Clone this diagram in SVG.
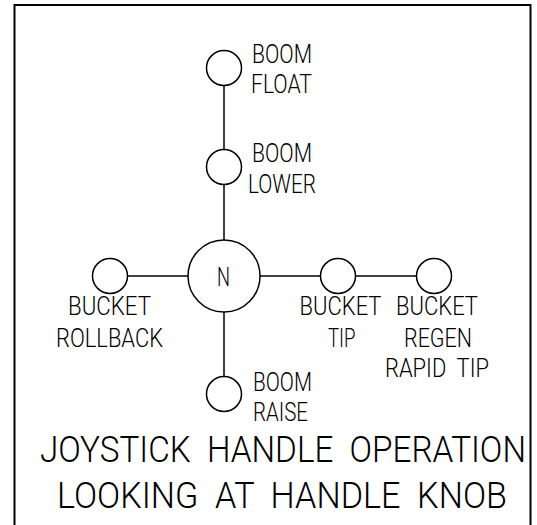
<svg xmlns="http://www.w3.org/2000/svg" width="537" height="525" viewBox="0 0 537 525">
<style>
.n{fill:#fff;stroke:#000;stroke-width:1.5}
.c{stroke:#000;stroke-width:1.5;fill:none}
text{font-family:Roboto,"Liberation Sans",Arial,sans-serif;font-weight:300;fill:#000;white-space:pre}
.l{font-size:25.5px}
.t{font-size:30px}
</style>
<rect x="0" y="0" width="537" height="525" fill="#fff"/>
<rect x="14.5" y="5" width="516" height="530" fill="none" stroke="#000" stroke-width="2"/>
<g id="connectors">
<line class="c" x1="224" y1="85.5" x2="224" y2="149.5"/>
<line class="c" x1="224" y1="184.5" x2="224" y2="240"/>
<line class="c" x1="224" y1="312" x2="224" y2="376.5"/>
<line class="c" x1="127.5" y1="276" x2="188" y2="276"/>
<line class="c" x1="260" y1="276" x2="320.5" y2="276"/>
<line class="c" x1="355.5" y1="276" x2="416.5" y2="276"/>
</g>
<g id="boom-float">
<circle class="n" cx="224" cy="68" r="17.5"/>
<text class="l" x="252" y="63" textLength="60" lengthAdjust="spacingAndGlyphs">BOOM</text>
<text class="l" x="251" y="93" textLength="61" lengthAdjust="spacingAndGlyphs">FLOAT</text>
</g>
<g id="boom-lower">
<circle class="n" cx="224" cy="167" r="17.5"/>
<text class="l" x="252" y="162" textLength="60" lengthAdjust="spacingAndGlyphs">BOOM</text>
<text class="l" x="248" y="193" textLength="68" lengthAdjust="spacingAndGlyphs">LOWER</text>
</g>
<g id="neutral">
<circle class="n" cx="224" cy="276" r="36"/>
<text class="l" x="217" y="286" textLength="13" lengthAdjust="spacingAndGlyphs">N</text>
</g>
<g id="bucket-rollback">
<circle class="n" cx="110" cy="276" r="17.5"/>
<text class="l" x="68" y="315" textLength="83" lengthAdjust="spacingAndGlyphs">BUCKET</text>
<text class="l" x="56" y="347" textLength="107" lengthAdjust="spacingAndGlyphs">ROLLBACK</text>
</g>
<g id="bucket-tip">
<circle class="n" cx="338" cy="276" r="17.5"/>
<text class="l" x="299.5" y="315" textLength="82" lengthAdjust="spacingAndGlyphs">BUCKET</text>
<text class="l" x="328" y="347" textLength="27.5" lengthAdjust="spacingAndGlyphs">TIP</text>
</g>
<g id="bucket-regen">
<circle class="n" cx="434" cy="276" r="17.5"/>
<text class="l" x="396" y="315" textLength="82" lengthAdjust="spacingAndGlyphs">BUCKET</text>
<text class="l" x="404" y="347" textLength="68" lengthAdjust="spacingAndGlyphs">REGEN</text>
<text class="l" x="385" y="377" textLength="104" lengthAdjust="spacingAndGlyphs">RAPID  TIP</text>
</g>
<g id="boom-raise">
<circle class="n" cx="224" cy="394" r="17.5"/>
<text class="l" x="253" y="391" textLength="59" lengthAdjust="spacingAndGlyphs">BOOM</text>
<text class="l" x="253" y="421" textLength="55" lengthAdjust="spacingAndGlyphs">RAISE</text>
</g>
<g id="title" transform="scale(1,1.2)">
<text class="t" x="40" y="385" textLength="486" lengthAdjust="spacingAndGlyphs">JOYSTICK  HANDLE  OPERATION</text>
<text class="t" x="57" y="423.3" textLength="450" lengthAdjust="spacingAndGlyphs">LOOKING  AT  HANDLE  KNOB</text>
</g>
</svg>
